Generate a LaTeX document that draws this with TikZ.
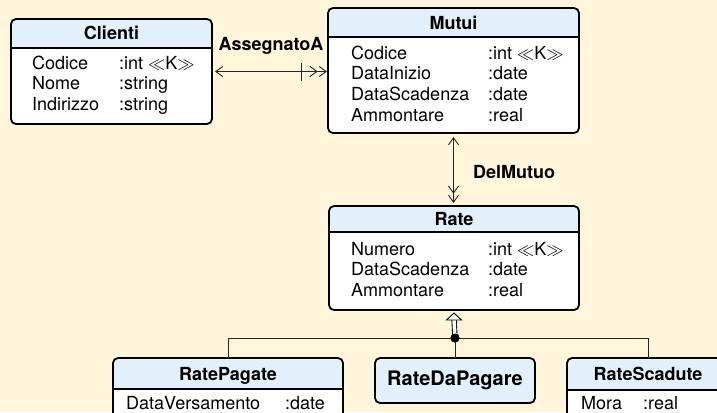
\documentclass[tikz,border=0pt]{standalone}
\usepackage{fontspec}
\usepackage{amssymb}
\usepackage{array}
\setmainfont{TeX Gyre Heros}
\usetikzlibrary{arrows.meta}
\usetikzlibrary{decorations.markings}
\definecolor{bgcream}{RGB}{255,245,218}
\definecolor{headblue}{RGB}{225,240,250}

\begin{document}
\begin{tikzpicture}[x=1bp, y=-1bp,
    classbox/.style={draw, line width=1.8bp, rounded corners=5bp, fill=white, inner sep=0pt, outer sep=0pt,
      path picture={\fill[headblue] (path picture bounding box.north west) rectangle ([yshift=-#1]path picture bounding box.north east);
        \draw[line width=1.5bp] ([yshift=-#1]path picture bounding box.north west) -- ([yshift=-#1]path picture bounding box.north east);}},
    classbox/.default=29bp,
    classname/.style={font=\fontsize{18bp}{20.7bp}\selectfont\bfseries, anchor=base, inner sep=0pt},
    attrlist/.style={font=\fontsize{18bp}{20.7bp}\selectfont, anchor=base west, inner sep=0pt},
    rolename/.style={font=\fontsize{18bp}{20.7bp}\selectfont\bfseries, anchor=base, inner sep=0pt},
    assoc/.style={line width=0.9bp, black!85},
    barb/.tip={Straight Barb[length=7bp, width=10bp, line width=0.9bp]}]
  \useasboundingbox (0,0) rectangle (717,412);
  \fill[bgcream] (0,0) rectangle (717,412);
  \clip (0,0) rectangle (717,412);

  \node[classbox, minimum width=201bp, minimum height=105bp] (clienti) at (111.5,71.5) {};
  \node[classname] (clientiname) at (111.5,39.5) {Clienti};
  \node[attrlist] (clientiattr) at (32,69) {\begin{tabular}[t]{@{}p{87bp}@{}l@{}}
    Codice & :int $\ll$K$\gg$\\ Nome & :string\\ Indirizzo & :string\end{tabular}};

  \node[classbox, minimum width=251bp, minimum height=125bp] (mutui) at (453.5,70.5) {};
  \node[classname] (mutuiname) at (453.5,29) {Mutui};
  \node[attrlist] (mutuiattr) at (351,59) {\begin{tabular}[t]{@{}p{137bp}@{}l@{}}
    Codice & :int $\ll$K$\gg$\\ DataInizio & :date\\ DataScadenza & :date\\ Ammontare & :real\end{tabular}};

  \node[classbox=26bp, minimum width=250bp, minimum height=104bp] (rate) at (454,258) {};
  \node[classname] (ratename) at (454,225.5) {Rate};
  \node[attrlist] (rateattr) at (351,255) {\begin{tabular}[t]{@{}p{137bp}@{}l@{}}
    Numero & :int $\ll$K$\gg$\\ DataScadenza & :date\\ Ammontare & :real\end{tabular}};

  \node[classbox=31bp, minimum width=230bp, minimum height=77bp] (pagate) at (228,396.5) {};
  \node[classname] (pagatename) at (228,380) {RatePagate};
  \node[attrlist] (pagateattr) at (126,409) {\begin{tabular}[t]{@{}p{159bp}@{}l@{}}
    DataVersamento & :date\end{tabular}};

  \node[draw, line width=1.8bp, rounded corners=5bp, fill=headblue, inner sep=0pt, outer sep=0pt,
    minimum width=160bp, minimum height=45bp, font=\fontsize{20bp}{24bp}\selectfont\bfseries] (dapagare) at (455,380.5) {RateDaPagare};

  \node[classbox=32bp, minimum width=162bp, minimum height=77bp] (scadute) at (648,396.5) {};
  \node[classname] (scadutename) at (648,380) {RateScadute};
  \node[attrlist] (scaduteattr) at (581,409) {\begin{tabular}[t]{@{}p{62bp}@{}l@{}}
    Mora & :real\end{tabular}};

  \draw[assoc, {barb}-{barb[sep=1bp]barb}, shorten <=3bp, shorten >=1bp,
    postaction={decorate, decoration={markings, mark=at position -27bp with {\draw[-, shorten <=0pt, shorten >=0pt, line width=0.9bp] (0,-9bp) -- (0,9bp);}}}]
    (clienti.east) -- (clienti.east -| mutui.west);
  \node[rolename] (assegnato) at (271,50.5) {AssegnatoA};

  \draw[assoc, {barb}-{barb[sep=1bp]barb}, shorten <=4bp, shorten >=3bp] (mutui.south) -- (mutui.south |- rate.north);
  \node[rolename] (delmutuo) at (514,178.5) {DelMutuo};

  \node[circle, fill=black, inner sep=0pt, minimum size=9bp] (isa) at (455,338) {};
  \coordinate (gentip) at ([yshift=-3bp]rate.south);
  \draw[assoc] (pagate.north) |- (isa.center) -| (scadute.north);
  \draw[assoc] (dapagare.north) -- (isa.center);
  \draw[line width=0.9bp, double=white, double distance=3.5bp] (isa.center) -- ([yshift=-6bp]gentip);
  \draw[line width=0.9bp, fill=white] (gentip) -- ++(7.5,7) -- ++(-15,0) -- cycle;
  \node[circle, fill=black, inner sep=0pt, minimum size=9bp] at (isa) {};
\end{tikzpicture}
\end{document}
